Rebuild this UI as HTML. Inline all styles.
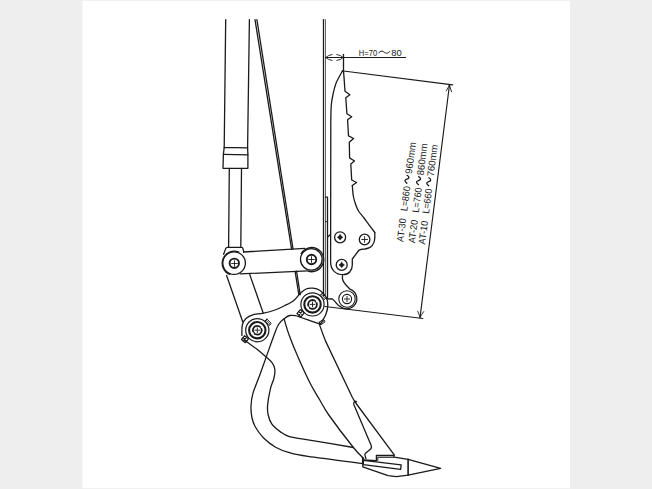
<!DOCTYPE html>
<html><head><meta charset="utf-8">
<style>
html,body{margin:0;padding:0;width:652px;height:489px;overflow:hidden;background:#eeeeee;}
svg{position:absolute;left:0;top:0;}
</style></head>
<body>
<svg width="652" height="489" viewBox="0 0 652 489">
<rect x="82.5" y="0.8" width="487.5" height="487.4" fill="#ffffff"/>
<g fill="none" stroke="#1a1a1a" stroke-width="1.3" stroke-linejoin="round" stroke-linecap="round">
<path d="M225.70,19.60 L224.20,147.40" />
<path d="M249.40,19.60 L247.60,147.90" />
<path d="M224.20,147.40 L247.60,147.90 L247.90,154.80 L247.90,168.30 L223.00,168.30 L223.40,154.30 L224.20,147.40" />
<path d="M223.40,154.30 L247.90,154.80" />
<path d="M229.30,168.30 L228.60,247.40" />
<path d="M241.50,168.30 L240.80,247.40" />
<path d="M223.6,254.3 L225.7,248.6 Q226.2,247.4 227.5,247.4 L241.6,247.4 Q242.8,247.4 243,248.8 L243.8,252" />
<path d="M255.00,19.60 L291.58,249.20" />
<path d="M295.12,271.40 L298.80,294.50" />
<path d="M256.90,19.60 L293.03,249.00" />
<path d="M296.53,271.20 L300.20,294.50" />
<path d="M323.50,19.60 L323.50,295.50" />
<path d="M325.50,19.60 L325.50,295.50" stroke-width="0.9" stroke="#555"/>
<path d="M325.50,197.20 L327.50,197.20 L327.50,298.50" />
<path d="M327.90,236.70 L330.50,234.60" />
<path d="M325.50,221.60 L327.50,221.60" stroke-width="0.9"/>
<path d="M243.60,252.00 L304.80,248.30" />
<path d="M240.40,273.90 L307.60,270.90" />
<circle cx="234.10" cy="263.10" r="11.30" />
<path d="M229.77,274.52 A12.10,12.10 0 0 1 238.83,252.08" />
<circle cx="234.30" cy="263.30" r="4.70" stroke-width="1.9"/>
<path d="M231.60,263.50 H237.40 M234.50,260.60 V266.40" stroke-width="0.9"/>
<circle cx="311.30" cy="259.40" r="10.80" />
<path d="M301.12,253.55 A12.10,12.10 0 1 1 308.47,271.29" />
<circle cx="311.50" cy="259.50" r="4.70" stroke-width="1.9"/>
<path d="M308.60,259.50 H314.40 M311.50,256.60 V262.40" stroke-width="0.9"/>
<path d="M226.60,275.50 L242.80,322.00" />
<path d="M249.60,274.10 L263.10,312.80" />
<path d="M241.90,335.40 C241.97,333.67 241.62,327.82 242.30,325.00 C242.98,322.18 244.15,320.22 246.00,318.50 C247.85,316.78 250.63,315.57 253.40,314.70 C256.17,313.83 259.00,314.08 262.60,313.30 C266.20,312.52 271.27,311.30 275.00,310.00 C278.73,308.70 281.87,307.10 285.00,305.50 C288.13,303.90 291.28,302.40 293.80,300.40 C296.32,298.40 299.05,294.65 300.10,293.50" />
<path d="M300.10,293.50 C301.08,292.75 303.85,289.88 306.00,289.00 C308.15,288.12 310.67,287.95 313.00,288.20 C315.33,288.45 317.83,289.03 320.00,290.50 C322.17,291.97 324.70,294.58 326.00,297.00 C327.30,299.42 327.80,302.17 327.80,305.00 C327.80,307.83 327.23,310.77 326.00,314.00 C324.77,317.23 321.33,322.67 320.40,324.40" />
<circle cx="257.30" cy="330.20" r="11.60" stroke-width="1.2"/>
<circle cx="257.30" cy="330.20" r="8.20" stroke-width="2.1"/>
<circle cx="257.30" cy="330.20" r="4.40" stroke-width="1.8"/>
<path d="M254.90,330.20 H259.70 M257.30,327.80 V332.60" stroke-width="0.9"/>
<circle cx="261.97" cy="326.93" r="1.20" fill="#fff" stroke="none"/>
<circle cx="252.63" cy="333.47" r="1.20" fill="#fff" stroke="none"/>
<circle cx="312.50" cy="304.40" r="11.60" stroke-width="1.2"/>
<circle cx="312.50" cy="304.40" r="8.20" stroke-width="2.1"/>
<circle cx="312.50" cy="304.40" r="4.40" stroke-width="1.8"/>
<path d="M310.10,304.40 H314.90 M312.50,302.00 V306.80" stroke-width="0.9"/>
<circle cx="317.17" cy="301.13" r="1.20" fill="#fff" stroke="none"/>
<circle cx="307.83" cy="307.67" r="1.20" fill="#fff" stroke="none"/>
<path d="M266.94,319.12 L271.18,323.36 L269.06,325.48 L264.82,321.24 L266.94,319.12Z" stroke-width="1.0"/>
<path d="M265.88,320.18 L270.12,324.42" stroke-width="0.9"/>
<path d="M322.14,293.32 L326.38,297.56 L324.26,299.68 L320.02,295.44 L322.14,293.32Z" stroke-width="1.0"/>
<path d="M321.08,294.38 L325.32,298.62" stroke-width="0.9"/>
<path d="M319.29,322.21 L323.39,319.34 L325.11,321.79 L321.01,324.66 L319.29,322.21Z" stroke-width="1.0"/>
<path d="M320.15,323.43 L324.25,320.57" stroke-width="0.9"/>
<path d="M244.69,335.68 L248.52,338.89 L245.31,342.72 L241.48,339.51 L244.69,335.68Z" stroke-width="1.2"/>
<path d="M243.08,337.59 L246.92,340.81 M246.61,337.28 L243.39,341.12" stroke-width="1.1"/>
<path d="M300.28,309.54 L304.26,312.88 L300.92,316.86 L296.94,313.52 L300.28,309.54Z" stroke-width="1.2"/>
<path d="M298.61,311.53 L302.59,314.87 M302.27,311.21 L298.93,315.19" stroke-width="1.1"/>
<path d="M342.50,70.90 C341.43,72.92 337.70,78.98 336.10,83.00 C334.50,87.02 333.70,91.33 332.90,95.00 C332.10,98.67 331.65,100.83 331.30,105.00 C330.95,109.17 330.88,117.50 330.80,120.00 L330.6,262 C330.6,270 336,274.7 343,274.7 C349,274.7 352.3,270 352.3,265 L352.3,259 L358.7,250.5 C360,249.3 362,249 365,249 C371,248.5 374.8,244 374.8,238 L374.8,232.4" />
<path d="M374.80,232.40 C373.83,231.13 370.80,227.20 369.00,224.80 C367.20,222.40 365.75,220.30 364.00,218.00 C362.25,215.70 359.92,213.33 358.50,211.00 C357.08,208.67 356.37,206.50 355.50,204.00 C354.63,201.50 353.83,199.08 353.30,196.00 C352.77,192.92 352.47,187.25 352.30,185.50" />
<path d="M352.30,185.50 L356.60,182.50 L351.70,180.00 L350.80,163.90 L354.50,161.00 L349.60,157.90 L349.30,142.30 L353.60,138.50 L348.50,135.90 L347.60,119.80 L351.70,116.70 L346.90,113.80 L345.80,97.70 L349.90,94.80 L345.00,91.30 L344.10,78.40 L343.50,71.00 L342.50,70.90" />
<circle cx="340.10" cy="237.30" r="5.50" />
<path d="M340.10,234.55 Q341.10,236.35 342.90,237.35 Q341.10,238.35 340.10,240.15 Q339.10,238.35 337.30,237.35 Q339.10,236.35 340.10,234.55 Z" fill="#1a1a1a" stroke-width="0.5"/>
<circle cx="364.60" cy="239.50" r="5.30" />
<path d="M361.70,239.50 H367.50 M364.60,236.60 V242.40" stroke-width="0.9"/>
<circle cx="341.70" cy="264.90" r="5.50" />
<path d="M341.70,262.15 Q342.70,263.95 344.50,264.95 Q342.70,265.95 341.70,267.75 Q340.70,265.95 338.90,264.95 Q340.70,263.95 341.70,262.15 Z" fill="#1a1a1a" stroke-width="0.5"/>
<path d="M342.5,275.7 C341.8,279.5 343.5,282.5 346,285 L350,289.2 A10.10,10.10 0 1 1 340.11,306.39 C337,305.5 335.5,301 332.4,299 L327.3,298.8" />
<circle cx="347.00" cy="299.00" r="8.20" stroke-width="1.1"/>
<circle cx="347.00" cy="299.00" r="4.60" stroke-width="1.1"/>
<path d="M344.40,299.00 H349.60 M347.00,296.40 V301.60" stroke-width="0.9"/>
<path d="M325.50,57.50 L405.60,57.50" stroke-width="1.15"/>
<path d="M343.50,54.50 L343.50,70.50" />
<path d="M332.1,54.5 Q327.8,55.3 325.8,57.5 Q327.8,59.7 332.1,60.5 M336.8,54.5 Q341.1,55.3 343.2,57.5 Q341.1,59.7 336.8,60.5" stroke-width="0.9"/>
<path d="M343.50,71.00 L452.70,84.90" stroke-width="1.15"/>
<path d="M325.00,306.50 L422.80,318.50" stroke-width="1.15"/>
<path d="M449.50,84.70 L420.00,317.60" stroke-width="1.15"/>
<path d="M446.2,90.9 Q448.5,87 449.5,84.7 Q450,87.5 451.5,91.7" stroke-width="0.9"/>
<path d="M417.7,311.2 Q419.5,315 420,317.6 Q421.5,314.5 423.7,311.6" stroke-width="0.9"/>
<path d="M320.40,324.10 C318.67,323.52 313.23,321.70 310.00,320.60 C306.77,319.50 303.40,318.32 301.00,317.50 C298.60,316.68 297.52,316.03 295.60,315.70 C293.68,315.37 291.35,315.05 289.50,315.50 C287.65,315.95 286.33,316.90 284.50,318.40 C282.67,319.90 280.23,321.73 278.50,324.50 C276.77,327.27 276.05,329.85 274.10,335.00 C272.15,340.15 269.18,348.73 266.80,355.40 C264.42,362.07 262.12,368.67 259.80,375.00 C257.48,381.33 254.37,388.18 252.90,393.40 C251.43,398.62 251.15,402.20 251.00,406.30 C250.85,410.40 251.27,414.55 252.00,418.00 C252.73,421.45 253.47,423.67 255.40,427.00 C257.33,430.33 260.23,434.63 263.60,438.00 C266.97,441.37 271.30,444.75 275.60,447.20 C279.90,449.65 284.00,451.17 289.40,452.70 C294.80,454.23 295.80,454.60 308.00,456.40 C320.20,458.20 353.50,462.32 362.60,463.50" />
<path d="M244.00,339.60 C244.68,340.13 246.03,341.27 248.10,342.80 C250.17,344.33 253.48,346.50 256.40,348.80 C259.32,351.10 263.00,354.30 265.60,356.60 C268.20,358.90 270.47,360.53 272.00,362.60 C273.53,364.67 274.47,366.43 274.80,369.00 C275.13,371.57 274.73,374.70 274.00,378.00 C273.27,381.30 271.47,384.23 270.40,388.80 C269.33,393.37 267.97,401.03 267.60,405.40 C267.23,409.77 267.48,411.87 268.20,415.00 C268.92,418.13 269.90,421.43 271.90,424.20 C273.90,426.97 277.28,429.53 280.20,431.60 C283.12,433.67 284.77,435.23 289.40,436.60 C294.03,437.97 297.33,437.98 308.00,439.80 C318.67,441.62 345.83,446.22 353.40,447.50" />
<path d="M284.10,319.00 C284.93,321.67 286.78,328.65 289.10,335.00 C291.42,341.35 294.52,349.10 298.00,357.10 C301.48,365.10 306.37,375.85 310.00,383.00 C313.63,390.15 316.67,394.67 319.80,400.00 C322.93,405.33 323.20,407.08 328.80,415.00 C334.40,422.92 347.57,440.23 353.40,447.50 C359.23,454.77 362.07,456.75 363.80,458.60" />
<path d="M319.4,324.4 Q322,332 325.7,341.4 L352.4,397.5 Q354.2,401 356.5,404 L394.4,455.2" />
<path d="M356.5,401.8 C355,400.5 353.3,402 353.8,404.5 L371.2,445.5 Q372,447.6 370.6,449 L365.5,453.2 Q364.5,454.3 365,455.5 L366,458.6" />
<path d="M362.60,457.30 L362.60,463.50" />
<path d="M363.30,460.00 L376.40,460.70 L376.40,455.50 L393.70,455.50 L394.20,457.20 L408.10,459.30 L440.60,468.30 L408.10,475.20 L396.40,476.60 L388.10,475.60 L362.80,466.80 L362.80,464.20" />
<path d="M377.80,460.60 L377.80,457.30 L393.80,457.30" stroke-width="1.0"/>
<path d="M408.10,459.30 L408.10,475.20" stroke-width="1.6"/>
<path d="M363.30,460.40 L401.20,464.80 L400.60,469.30 L363.30,464.60 L363.30,460.40" />
</g>
<g font-family="Liberation Sans, sans-serif" fill="#1a1a1a" font-size="9">
<text x="358.8" y="55.6" font-size="9.6" textLength="18.4" lengthAdjust="spacingAndGlyphs">H=70</text>
<path d="M378.6,53.2 C380,51 381.8,50.6 383.3,51.6 C384.8,52.6 386,53.4 387.2,53.2 C388.4,53 389.2,52 389.9,51.2" fill="none" stroke="#1a1a1a" stroke-width="1"/>
<text x="391.3" y="55.6" font-size="9.6" textLength="10.5" lengthAdjust="spacingAndGlyphs">80</text>
<g transform="translate(403.30,242.20) rotate(-82.8)" font-size="9.7">
<text x="0" y="0" textLength="23.6" lengthAdjust="spacingAndGlyphs">AT-30</text>
<text x="30.9" y="0" textLength="25.2" lengthAdjust="spacingAndGlyphs">L=860</text>
<path d="M58.6,-3.4 C60.3,-6.8 62,-6.8 63,-4.3 C64,-1.8 65.8,-1.8 67.1,-5.1" fill="none" stroke="#1a1a1a" stroke-width="1.3"/>
<text x="68.4" y="0" textLength="32.2" lengthAdjust="spacingAndGlyphs">960mm</text>
</g>
<g transform="translate(414.90,243.60) rotate(-82.8)" font-size="9.7">
<text x="0" y="0" textLength="23.6" lengthAdjust="spacingAndGlyphs">AT-20</text>
<text x="30.9" y="0" textLength="25.2" lengthAdjust="spacingAndGlyphs">L=760</text>
<path d="M58.6,-3.4 C60.3,-6.8 62,-6.8 63,-4.3 C64,-1.8 65.8,-1.8 67.1,-5.1" fill="none" stroke="#1a1a1a" stroke-width="1.3"/>
<text x="68.4" y="0" textLength="32.2" lengthAdjust="spacingAndGlyphs">860mm</text>
</g>
<g transform="translate(425.10,244.70) rotate(-82.8)" font-size="9.7">
<text x="0" y="0" textLength="23.6" lengthAdjust="spacingAndGlyphs">AT-10</text>
<text x="30.9" y="0" textLength="25.2" lengthAdjust="spacingAndGlyphs">L=660</text>
<path d="M58.6,-3.4 C60.3,-6.8 62,-6.8 63,-4.3 C64,-1.8 65.8,-1.8 67.1,-5.1" fill="none" stroke="#1a1a1a" stroke-width="1.3"/>
<text x="68.4" y="0" textLength="32.2" lengthAdjust="spacingAndGlyphs">760mm</text>
</g>
</g>
</svg>
</body></html>
